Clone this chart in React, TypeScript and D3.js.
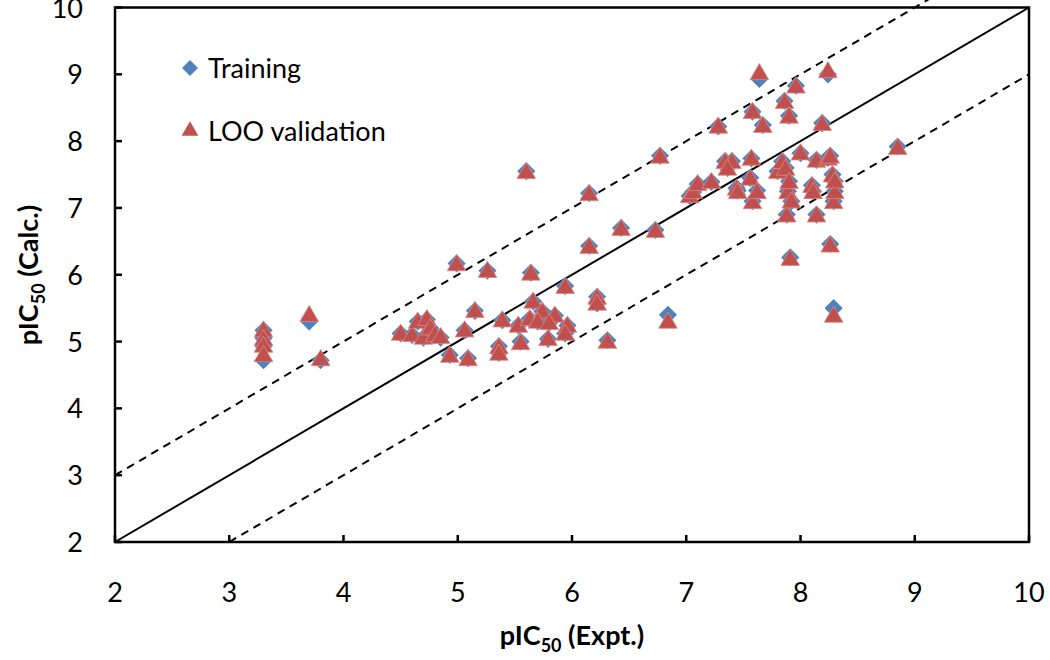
import React from 'react'
import * as d3 from 'd3'

// experimental pIC50 for each compound
const expt = [
  3.3, 3.3, 3.3, 3.3, 3.7, 3.8, 4.5, 4.6, 4.65, 4.7, 4.73, 4.76, 4.8, 4.85, 4.93,
  4.99, 5.06, 5.09, 5.15, 5.26, 5.36, 5.36, 5.39, 5.53, 5.55, 5.6, 5.63, 5.64,
  5.66, 5.74, 5.7, 5.79, 5.85, 5.8, 5.94, 5.96, 5.94, 6.15, 6.15, 6.22, 6.22,
  6.31, 6.43, 6.73, 6.77, 6.84, 7.03, 7.06, 7.1, 7.22, 7.28, 7.34, 7.4, 7.36,
  7.44, 7.45, 7.56, 7.57, 7.58, 7.58, 7.62, 7.64, 7.67, 7.8, 7.84, 7.86, 7.87,
  7.88, 7.89, 7.9, 7.9, 7.91, 7.92, 7.96, 8.0, 8.1, 8.11, 8.14, 8.14, 8.19, 8.24,
  8.24, 8.26, 8.26, 8.28, 8.29, 8.3, 8.29, 8.85, 8.3,
]
// calculated by the training model
const training = [
  5.17, 5.05, 4.93, 4.72, 5.3, 4.72, 5.12, 5.1, 5.3, 5.06, 5.33, 5.2, 5.1, 5.06, 4.8,
  6.17, 5.17, 4.75, 5.46, 6.06, 4.93, 4.83, 5.32, 5.24, 5.0, 7.55, 5.34, 6.03,
  5.6, 5.45, 5.3, 5.04, 5.39, 5.28, 5.83, 5.24, 5.12, 7.22, 6.43, 5.67, 5.57,
  5.02, 6.7, 6.67, 7.78, 5.4, 7.18, 7.24, 7.36, 7.39, 8.22, 7.7, 7.7, 7.6,
  7.3, 7.26, 7.45, 7.74, 8.44, 7.1, 7.26, 8.93, 8.24, 7.55, 7.7, 8.6, 7.6,
  6.9, 7.25, 8.38, 7.4, 6.26, 7.1, 8.83, 7.82, 7.34, 7.25, 7.72, 6.9, 8.27, 7.75,
  9.0, 7.78, 6.46, 7.5, 7.1, 7.25, 5.5, 7.92, 7.4,
]
// leave-one-out predictions
const loo = [
  5.15, 5.02, 4.92, 4.78, 5.38, 4.72, 5.1, 5.08, 5.28, 5.04, 5.32, 5.18, 5.08, 5.05, 4.77,
  6.14, 5.15, 4.72, 5.44, 6.04, 4.9, 4.8, 5.3, 5.22, 4.96, 7.52, 5.32, 6.0,
  5.58, 5.43, 5.28, 5.02, 5.37, 5.26, 5.8, 5.22, 5.1, 7.19, 6.4, 5.64, 5.55,
  4.98, 6.67, 6.64, 7.75, 5.28, 7.16, 7.22, 7.34, 7.37, 8.2, 7.67, 7.67, 7.57,
  7.27, 7.22, 7.42, 7.72, 8.42, 7.07, 7.22, 9.0, 8.21, 7.52, 7.67, 8.57, 7.57,
  6.87, 7.22, 8.35, 7.37, 6.22, 7.08, 8.8, 7.8, 7.31, 7.22, 7.69, 6.87, 8.24, 7.72,
  9.03, 7.75, 6.42, 7.47, 7.07, 7.22, 5.37, 7.88, 7.38,
]
const ticks = [2, 3, 4, 5, 6, 7, 8, 9, 10]

const W = 1050
const H = 660
const margin = { left: 115, right: 21, top: 7.5, bottom: 118 }
const font = 'Lato, "Liberation Sans", sans-serif'

export default function App() {
  const x = d3.scaleLinear().domain([2, 10]).range([margin.left, W - margin.right])
  const y = d3.scaleLinear().domain([2, 10]).range([H - margin.bottom, margin.top])
  const line = d3.line<[number, number]>().x((d) => x(d[0])).y((d) => y(d[1]))

  const diamond = d3.symbol().type(d3.symbolDiamond2).size(210)()
  const triangle = d3.symbol().type(d3.symbolTriangle2).size(250)()
  const legDiamond = d3.symbol().type(d3.symbolDiamond2).size(160)()
  const legTriangle = d3.symbol().type(d3.symbolTriangle2).size(200)()

  const blue = '#4F81BD'
  const red = '#C0504D'

  return (
    <svg width={W} height={H} style={{ position: 'absolute', left: 0, top: 0, background: '#fff' }} fontFamily={font}>
      {/* reference lines */}
      <path d={line([[2, 2], [10, 10]]) || ''} stroke="#000" strokeWidth={2} fill="none" />
      <path d={line([[2, 3], [9.12, 10.12]]) || ''} stroke="#000" strokeWidth={2} strokeDasharray="8,6" fill="none" />
      <path d={line([[3, 2], [10, 9]]) || ''} stroke="#000" strokeWidth={2} strokeDasharray="8,6" fill="none" />

      {/* frame */}
      <rect x={x(2)} y={y(10)} width={x(10) - x(2)} height={y(2) - y(10)} fill="none" stroke="#000" strokeWidth={2.5} />

      {/* ticks */}
      {ticks.map((t) => (
        <g key={'x' + t}>
          <line x1={x(t)} x2={x(t)} y1={y(2)} y2={y(2) - 7} stroke="#000" strokeWidth={2.5} />
          <text x={x(t)} y={y(2) + 60} textAnchor="middle" fontSize={27}>{t}</text>
        </g>
      ))}
      {ticks.map((t) => (
        <g key={'y' + t}>
          <line x1={x(2)} x2={x(2) + 7} y1={y(t)} y2={y(t)} stroke="#000" strokeWidth={2.5} />
          <text x={x(2) - 32} y={y(t) + 10} textAnchor="end" fontSize={27}>{t}</text>
        </g>
      ))}

      {/* points */}
      {expt.map((e, i) => (
        <path key={'t' + i} d={diamond || ''} transform={`translate(${x(e)},${y(training[i])})`} fill={blue} />
      ))}
      {expt.map((e, i) => (
        <path key={'l' + i} d={triangle || ''} transform={`translate(${x(e)},${y(loo[i])})`} fill={red} stroke="#d98a88" strokeWidth={0.8} />
      ))}

      {/* legend */}
      <path d={legDiamond || ''} transform="translate(190,68)" fill={blue} />
      <text x={208} y={78} fontSize={27}>Training</text>
      <path d={legTriangle || ''} transform="translate(190,131)" fill={red} />
      <text x={208} y={141} fontSize={27}>LOO validation</text>

      {/* axis titles */}
      <text x={572} y={645} textAnchor="middle" fontSize={27} fontWeight="bold">
        pIC<tspan fontSize={18} dy={7}>50</tspan><tspan dy={-7}> (Expt.)</tspan>
      </text>
      <text transform="translate(38,275) rotate(-90)" textAnchor="middle" fontSize={27} fontWeight="bold">
        pIC<tspan fontSize={18} dy={7}>50</tspan><tspan dy={-7}> (Calc.)</tspan>
      </text>
    </svg>
  )
}
